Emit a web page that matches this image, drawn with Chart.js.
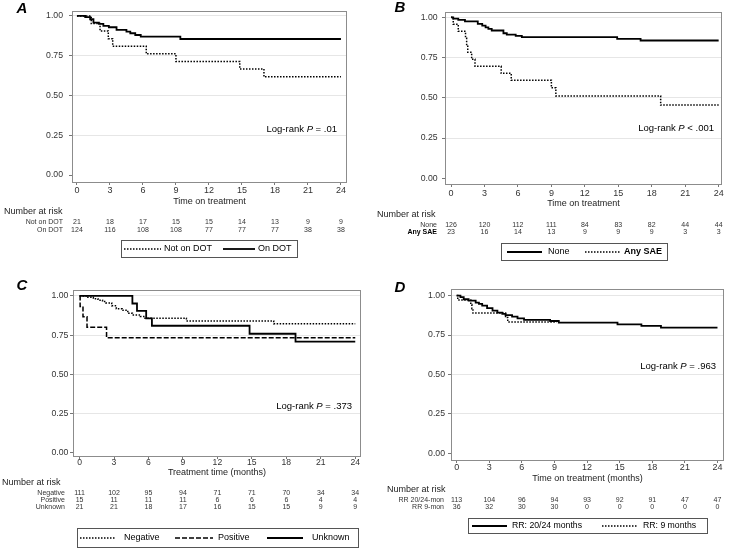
<!DOCTYPE html>
<html><head><meta charset="utf-8">
<script src="https://cdn.jsdelivr.net/npm/chart.js@4.4.1/dist/chart.umd.min.js"></script>
<style>
html,body{margin:0;padding:0;background:#fff;}
body{width:729px;height:549px;position:relative;overflow:hidden;}
canvas{position:absolute;}
</style></head><body>
<canvas id="cA" width="365" height="275" style="left:0;top:0"></canvas>
<canvas id="cB" width="364" height="275" style="left:365px;top:0"></canvas>
<canvas id="cC" width="365" height="274" style="left:0;top:275px"></canvas>
<canvas id="cD" width="364" height="274" style="left:365px;top:275px"></canvas>
<script>
// ---------- data ----------
const timeTicks = [0, 3, 6, 9, 12, 15, 18, 21, 24];
const survivalTicks = [0, 0.25, 0.5, 0.75, 1];

// Panel A  [time (months), survival]
const aNotOnDOT = [[0,1],[1.3,0.952],[2.1,0.905],[2.85,0.857],[3.25,0.810],[6.3,0.762],[9.0,0.714],[14.8,0.667],[17.0,0.617],[24,0.617]];
const aOnDOT = [[0,1],[0.75,0.992],[1.2,0.979],[1.5,0.958],[2.0,0.950],[2.4,0.937],[2.9,0.929],[3.6,0.912],[4.5,0.901],[4.85,0.891],[5.3,0.880],[5.8,0.870],[9.4,0.855],[24,0.855]];
const aRiskNotOnDOT = [21, 18, 17, 15, 15, 14, 13, 9, 9];
const aRiskOnDOT = [124, 116, 108, 108, 77, 77, 77, 38, 38];

// Panel B
const bNone = [[0,1],[0.2,0.992],[0.65,0.984],[1.25,0.975],[2.4,0.959],[2.8,0.949],[3.1,0.938],[3.35,0.928],[3.65,0.918],[4.7,0.901],[5.0,0.893],[5.8,0.885],[6.35,0.877],[14.9,0.866],[17.0,0.856],[24,0.856]];
const bAnySAE = [[0,1],[0.2,0.957],[0.65,0.913],[1.3,0.870],[1.4,0.826],[1.5,0.783],[1.85,0.739],[2.15,0.696],[4.5,0.652],[5.4,0.609],[9.0,0.562],[9.4,0.512],[18.8,0.455],[24,0.455]];
const bRiskNone = [126, 120, 112, 111, 84, 83, 82, 44, 44];
const bRiskAnySAE = [23, 16, 14, 13, 9, 9, 9, 3, 3];

// Panel C
const cNegative = [[0,1],[0.6,0.991],[1.2,0.982],[1.6,0.973],[2.0,0.964],[2.3,0.955],[2.8,0.937],[3.2,0.919],[3.7,0.909],[4.2,0.889],[4.6,0.879],[5.3,0.869],[5.7,0.858],[9.3,0.840],[16.9,0.822],[24,0.822]];
const cPositive = [[0,1],[0.05,0.933],[0.3,0.867],[0.65,0.800],[2.35,0.733],[24,0.733]];
const cUnknown = [[0,1],[4.6,0.952],[5.0,0.905],[5.8,0.857],[6.3,0.810],[14.8,0.759],[18.8,0.709],[24,0.709]];
const cRiskNegative = [111, 102, 95, 94, 71, 71, 70, 34, 34];
const cRiskPositive = [15, 11, 11, 11, 6, 6, 6, 4, 4];
const cRiskUnknown = [21, 21, 18, 17, 16, 15, 15, 9, 9];

// Panel D
const dRR2024 = [[0,1],[0.35,0.991],[0.65,0.977],[1.1,0.968],[1.75,0.956],[2.05,0.947],[2.35,0.937],[2.8,0.920],[3.3,0.905],[3.75,0.892],[4.2,0.884],[4.5,0.876],[5.1,0.867],[5.6,0.856],[6.2,0.846],[8.6,0.839],[9.4,0.829],[14.8,0.818],[17.0,0.808],[18.8,0.797],[24,0.797]];
const dRR9 = [[0,1],[0.1,0.972],[1.3,0.944],[1.4,0.917],[1.5,0.889],[4.5,0.861],[4.7,0.833],[9.2,0.833]];
const dRiskRR2024 = [113, 104, 96, 94, 93, 92, 91, 47, 47];
const dRiskRR9 = [36, 32, 30, 30, 0, 0, 0, 0, 0];

// ---------- styles / layout ----------
const FONT = "'Liberation Sans', Arial, Helvetica, sans-serif";
const DOT = [1.5, 1.5], DASH = [5, 2], SOLID = [];
const X_AXIS_H = 20;

const panels = [
  { id:'cA', letter:'A', xTitle:'Time on treatment', logrank:['Log-rank ','P',' = .01'],
    series:[{name:'Not on DOT', pts:aNotOnDOT, dash:DOT},{name:'On DOT', pts:aOnDOT, dash:SOLID}],
    risk:[{label:'Not on DOT', n:aRiskNotOnDOT},{label:'On DOT', n:aRiskOnDOT}],
    legend:[0,1], legendFont:9, tickFont:9,
    L:{w:365,h:275,left:72,right:347,top:11,bottom:182,xMin:-0.45,xMax:24.55,yMin:-0.044,yMax:1.031,xPad:1.5,yPad:6,
       letterX:22,letterY:9,xTitleY:202,narX:4,narY:212,rowY:[222,230.5],rowRight:63,
       box:[121,240,297,257],items:[[124,161,164],[223,255,258]],lrRight:337,lrY:129}},
  { id:'cB', letter:'B', xTitle:'Time on treatment', logrank:['Log-rank ','P',' < .001'],
    series:[{name:'None', pts:bNone, dash:SOLID},{name:'Any SAE', pts:bAnySAE, dash:DOT, bold:true}],
    risk:[{label:'None', n:bRiskNone},{label:'Any SAE', n:bRiskAnySAE, bold:true}],
    legend:[0,1], legendFont:9, tickFont:9,
    L:{w:364,h:275,left:80,right:357,top:12,bottom:184,xMin:-0.54,xMax:24.3,yMin:-0.035,yMax:1.033,xPad:2.5,yPad:4.3,
       letterX:35,letterY:8,xTitleY:204,narX:12,narY:215,rowY:[225,232.3],rowRight:72,
       box:[136,243,302,260],items:[[142,177,183],[220,255,259]],lrRight:349,lrY:128}},
  { id:'cC', letter:'C', xTitle:'Treatment time (months)', logrank:['Log-rank ','P',' = .373'],
    series:[{name:'Negative', pts:cNegative, dash:DOT},{name:'Positive', pts:cPositive, dash:DASH},{name:'Unknown', pts:cUnknown, dash:SOLID}],
    risk:[{label:'Negative', n:cRiskNegative},{label:'Positive', n:cRiskPositive},{label:'Unknown', n:cRiskUnknown}],
    legend:[0,1,2], legendFont:9, tickFont:8.6,
    L:{w:365,h:274,left:73,right:361,top:15,bottom:181,xMin:-0.57,xMax:24.5,yMin:-0.021,yMax:1.038,xPad:-0.8,yPad:1.7,
       letterX:22,letterY:11,xTitleY:197.5,narX:2,narY:208,rowY:[218,225,232],rowRight:65,
       box:[77,253,358,272],items:[[80,115,124],[175,213,218],[267,303,312]],lrRight:352,lrY:131}},
  { id:'cD', letter:'D', xTitle:'Time on treatment (months)', logrank:['Log-rank ','P',' = .963'],
    series:[{name:'RR: 20/24 months', pts:dRR2024, dash:SOLID},{name:'RR: 9 months', pts:dRR9, dash:DOT}],
    risk:[{label:'RR 20/24-mon', n:dRiskRR2024},{label:'RR 9-mon', n:dRiskRR9}],
    legend:[0,1], legendFont:8.7, tickFont:9,
    L:{w:364,h:274,left:86,right:359,top:14.3,bottom:185,xMin:-0.52,xMax:24.6,yMin:-0.0425,yMax:1.04,xPad:0.5,yPad:3,
       letterX:35,letterY:13,xTitleY:204,narX:22,narY:215,rowY:[225,232],rowRight:79,
       box:[103,243,342,258],items:[[107,142,147],[237,273,278]],lrRight:351,lrY:91}}
];

function lineStyle(ctx, dash){
  ctx.strokeStyle = '#000';
  ctx.lineWidth = dash.length ? 1.5 : 1.8;
  ctx.setLineDash(dash);
}

const kmDecor = {
  id:'kmDecor',
  beforeDatasetsDraw(chart, args, o){
    const ca = chart.chartArea, ctx = chart.ctx;
    ctx.save();
    ctx.strokeStyle = '#8c8c8c'; ctx.lineWidth = 1; ctx.setLineDash([]);
    ctx.strokeRect(Math.round(ca.left)+0.5, Math.round(ca.top)+0.5, Math.round(ca.right-ca.left)-1, Math.round(ca.bottom-ca.top));
    ctx.restore();
  },
  afterDraw(chart, args, o){
    const p = o.panel, L = p.L, ctx = chart.ctx, ca = chart.chartArea, xs = chart.scales.x;
    ctx.save();
    ctx.setLineDash([]);
    // panel letter
    ctx.fillStyle = '#000'; ctx.textBaseline = 'middle'; ctx.textAlign = 'center';
    ctx.font = `italic bold 15px ${FONT}`;
    ctx.fillText(p.letter, L.letterX, L.letterY);
    // x title
    ctx.fillStyle = '#222';
    ctx.font = `9px ${FONT}`;
    ctx.fillText(p.xTitle, (ca.left+ca.right)/2, L.xTitleY);
    // Number at risk
    ctx.textAlign = 'left';
    ctx.fillText('Number at risk', L.narX, L.narY);
    // risk rows
    p.risk.forEach((r, ri) => {
      const y = L.rowY[ri];
      ctx.fillStyle = r.bold ? '#000' : '#333';
      ctx.font = `${r.bold ? 'bold ' : ''}7px ${FONT}`;
      ctx.textAlign = 'right';
      ctx.fillText(r.label, L.rowRight, y);
      ctx.fillStyle = '#333';
      ctx.font = `7px ${FONT}`;
      ctx.textAlign = 'center';
      r.n.forEach((v, i) => ctx.fillText(String(v), xs.getPixelForValue(timeTicks[i]), y));
    });
    // legend box
    const b = L.box;
    ctx.strokeStyle = '#555'; ctx.lineWidth = 1;
    ctx.strokeRect(b[0]+0.5, b[1]+0.5, b[2]-b[0], b[3]-b[1]);
    const cy = (b[1]+b[3])/2 + 0.5;
    p.legend.forEach((si, k) => {
      const s = p.series[si], it = L.items[k];
      ctx.save();
      lineStyle(ctx, s.dash);
      ctx.beginPath(); ctx.moveTo(it[0], cy); ctx.lineTo(it[1], cy); ctx.stroke();
      ctx.restore();
      ctx.fillStyle = '#000';
      ctx.font = `${s.bold ? 'bold ' : ''}${p.legendFont}px ${FONT}`;
      ctx.textAlign = 'left'; ctx.textBaseline = 'middle';
      ctx.fillText(s.name, it[2], cy);
    });
    // log-rank annotation
    const fonts = [`9.5px ${FONT}`, `italic 9.5px ${FONT}`, `9.5px ${FONT}`];
    let total = 0;
    p.logrank.forEach((t, i) => { ctx.font = fonts[i]; total += ctx.measureText(t).width; });
    let x = L.lrRight - total;
    ctx.fillStyle = '#000'; ctx.textAlign = 'left'; ctx.textBaseline = 'middle';
    p.logrank.forEach((t, i) => { ctx.font = fonts[i]; ctx.fillText(t, x, L.lrY); x += ctx.measureText(t).width; });
    ctx.restore();
  }
};

panels.forEach(p => {
  const L = p.L;
  new Chart(document.getElementById(p.id), {
    type:'line',
    data:{ datasets: p.series.map(s => ({
      label: s.name,
      data: s.pts.map(([x, y]) => ({x, y})),
      stepped: true, borderColor:'#000', borderWidth: s.dash.length ? 1.5 : 1.8,
      borderDash: s.dash, borderCapStyle:'butt', pointRadius:0, fill:false, tension:0
    }))},
    options:{
      responsive:false, animation:false, events:[],
      layout:{padding:{left:0, top:L.top, right:L.w-L.right, bottom:L.h-L.bottom-X_AXIS_H}},
      scales:{
        x:{ type:'linear', min:L.xMin, max:L.xMax,
            afterBuildTicks: sc => { sc.ticks = timeTicks.map(v => ({value:v})); },
            afterFit: sc => { sc.height = X_AXIS_H; },
            grid:{drawOnChartArea:false, drawTicks:true, tickLength:3, tickColor:'#777', lineWidth:1},
            border:{display:false},
            ticks:{autoSkip:false, maxRotation:0, padding:L.xPad, color:'#333',
                   font:{family:FONT, size:p.tickFont, lineHeight:1}, callback: v => String(v)} },
        y:{ type:'linear', min:L.yMin, max:L.yMax,
            afterBuildTicks: sc => { sc.ticks = survivalTicks.map(v => ({value:v})); },
            afterFit: sc => { sc.width = L.left; },
            grid:{color: c => (c.tick && c.tick.value === 0) ? 'rgba(0,0,0,0)' : '#e6e6e6',
                  tickLength:3, tickColor:'#777', lineWidth:1},
            border:{display:false},
            ticks:{padding:L.yPad, color:'#333', font:{family:FONT, size:8.7, lineHeight:1},
                   callback: v => Number(v).toFixed(2)} }
      },
      plugins:{legend:{display:false}, tooltip:{enabled:false}, kmDecor:{panel:p}}
    },
    plugins:[kmDecor]
  });
});
</script>
</body></html>
